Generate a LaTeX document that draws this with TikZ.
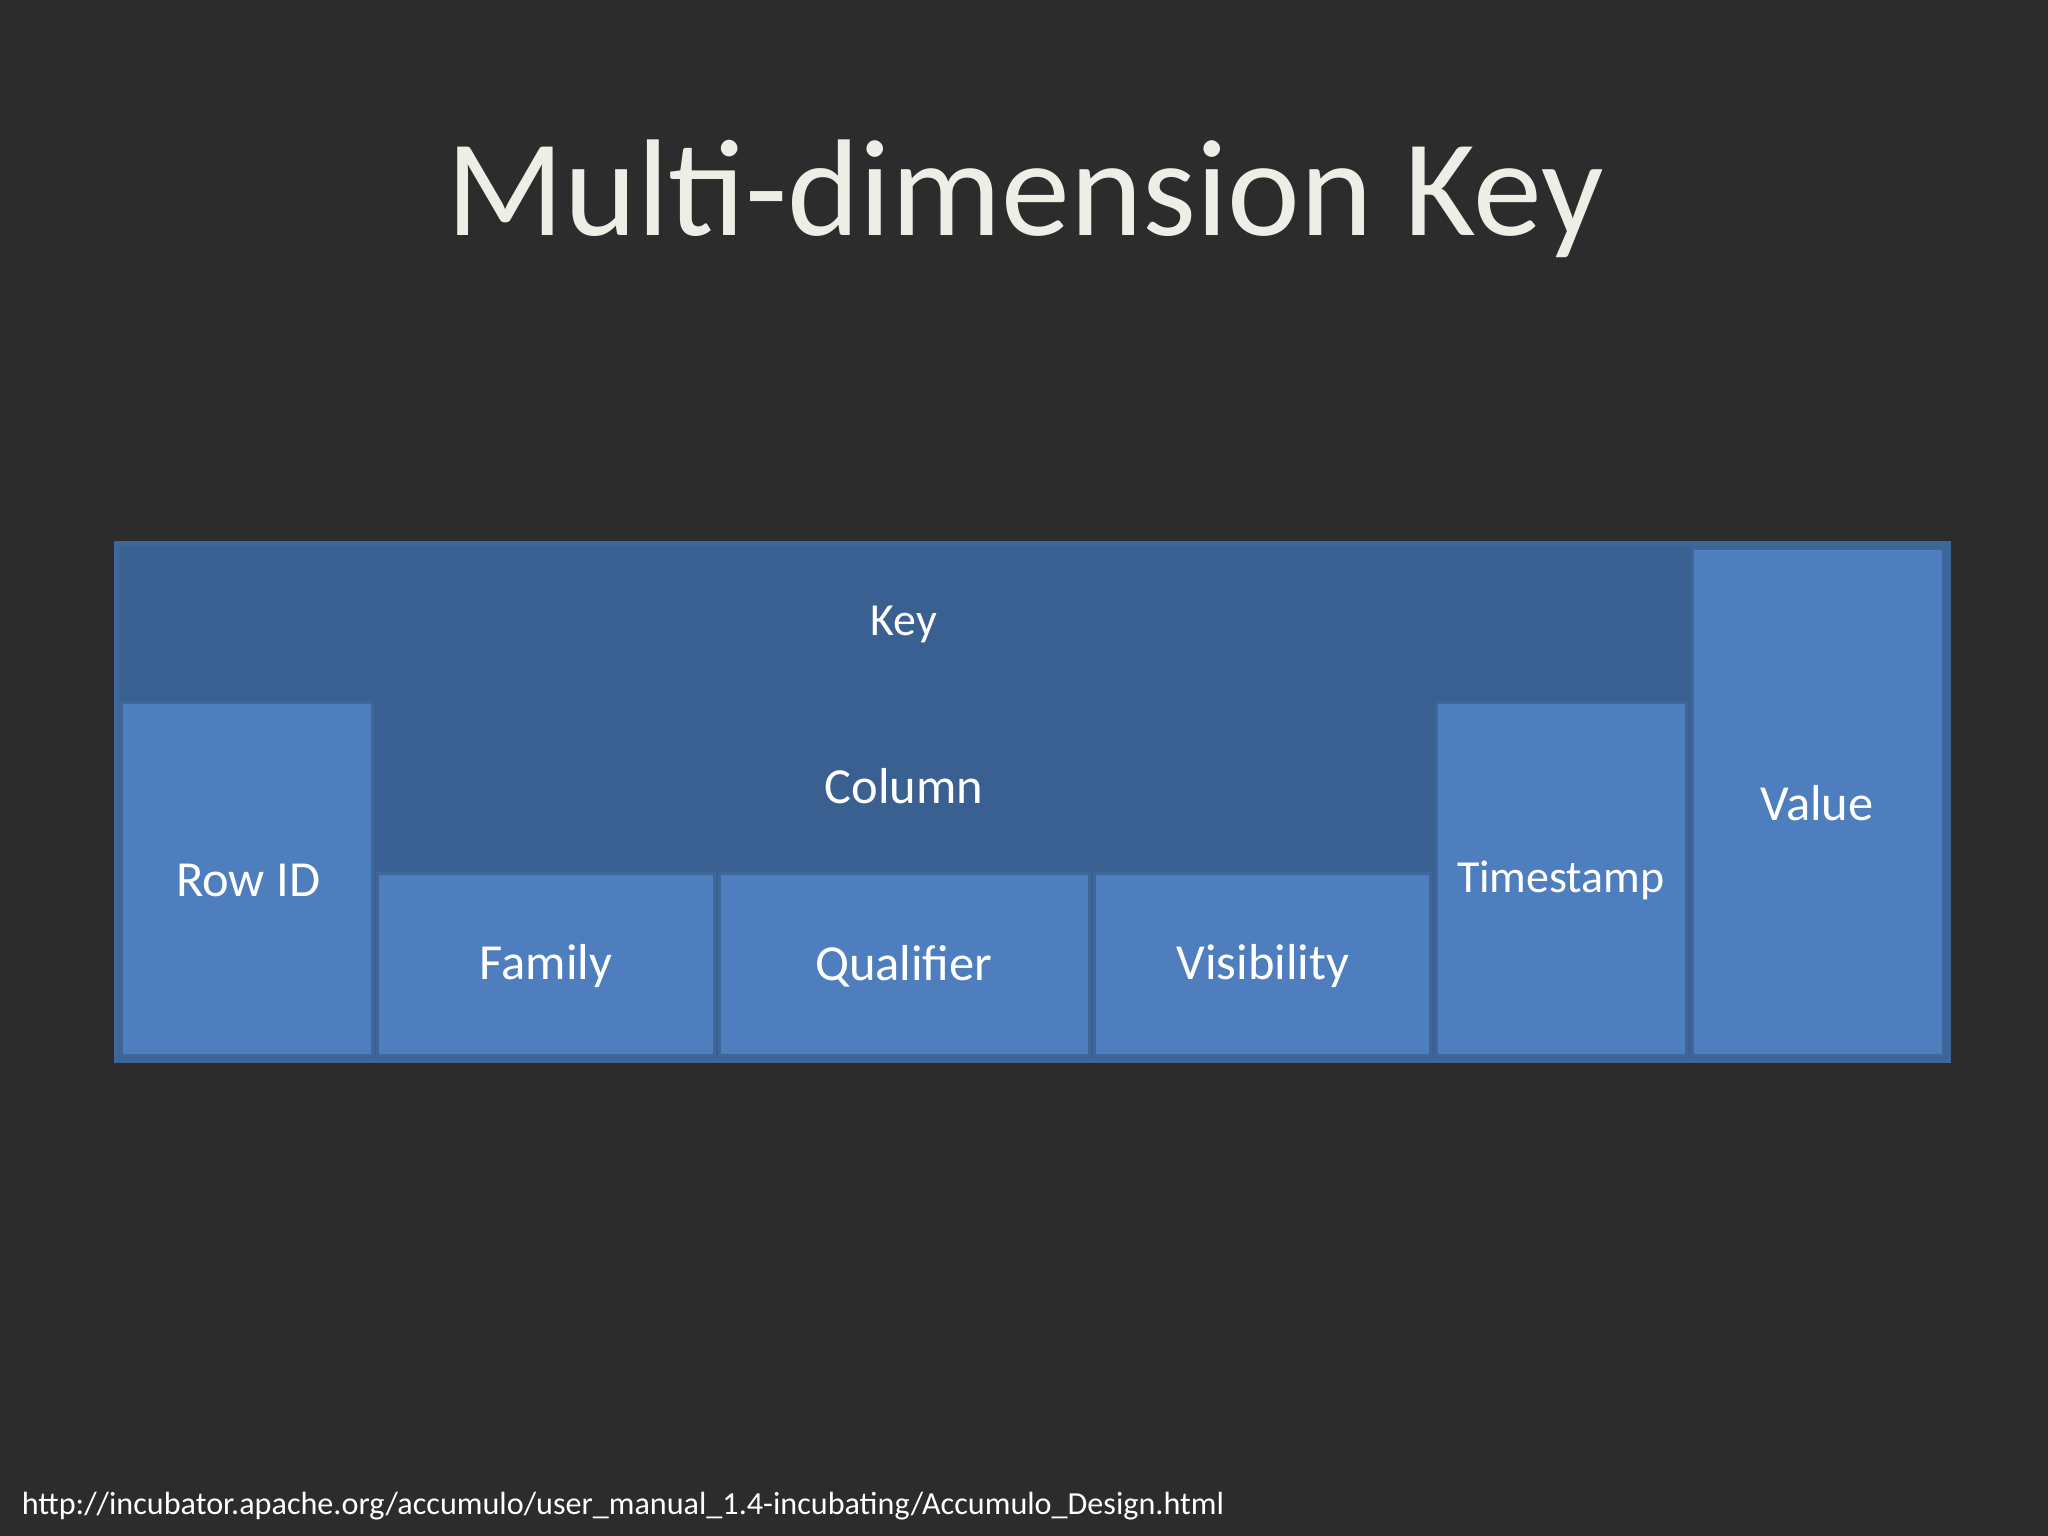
\documentclass[tikz,border=0pt]{standalone}
\usepackage{fontspec}
\setmainfont{Carlito}
\definecolor{bg}{HTML}{2C2C2C}
\definecolor{dark}{HTML}{3A6092}
\definecolor{light}{HTML}{4F7EBE}
\definecolor{edge}{HTML}{3D6699}
\begin{document}
\begin{tikzpicture}[x=0.01cm,y=-0.01cm,
  cell/.style={fill=light,draw=edge,line width=0.6pt},
  lbl/.style={text=white,font=\fontsize{11}{13}\selectfont}]
\fill[bg] (0,0) rectangle (1568,1176);
\useasboundingbox (0,0) rectangle (1568,1176);
\node[text={rgb,255:red,238;green,238;blue,230},font=\fontsize{30}{36}\selectfont] (title) at (785,152) {Multi-dimension Key};
\draw[fill=dark,draw=edge,line width=1pt] (89,416) rectangle (1492,812);
\draw[cell] (1296,420) rectangle (1488,808);
\draw[cell] (93,538) rectangle (285,808);
\draw[cell] (289,669) rectangle (547,808);
\draw[cell] (551,669) rectangle (834,808);
\draw[cell] (838,669) rectangle (1095,808);
\draw[cell] (1100,538) rectangle (1291,808);
\node[lbl,font=\fontsize{10}{12}\selectfont] (key) at (692,478) {Key};
\node[lbl] (col) at (692,602) {Column};
\node[lbl] (row) at (190,674) {Row ID};
\node[lbl] (fam) at (418,740) {Family};
\node[lbl] (qual) at (692,740) {Qualifier};
\node[lbl] (vis) at (967,740) {Visibility};
\node[lbl,font=\fontsize{10}{12}\selectfont] (ts) at (1195,674) {Timestamp};
\node[lbl] (val) at (1391,615) {Value};
\node[anchor=west,text=white,font=\fontsize{7}{9}\selectfont,inner sep=0] (url) at (16,1153) {http://incubator.apache.org/accumulo/user\_manual\_1.4-incubating/Accumulo\_Design.html};
\end{tikzpicture}
\end{document}
